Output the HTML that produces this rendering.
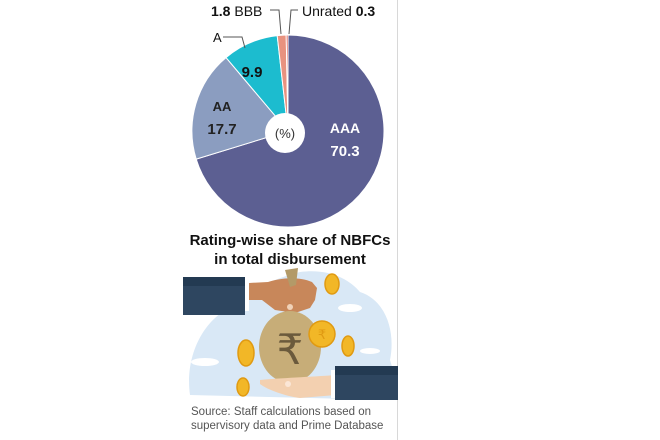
<!DOCTYPE html>
<html><head><meta charset="utf-8"><style>
html,body{margin:0;padding:0;background:#fff;}
body{width:660px;height:440px;overflow:hidden;position:relative;font-family:"Liberation Sans","DejaVu Sans",sans-serif;}
</style></head><body>
<svg width="660" height="440" viewBox="0 0 660 440" xmlns="http://www.w3.org/2000/svg" style="position:absolute;left:0;top:0">
<line x1="397.5" y1="0" x2="397.5" y2="440" stroke="#d8d8d8" stroke-width="1"/>
<g stroke="#fff" stroke-width="1">
<path d="M288,131 L288,35 A96,96 0 1 1 196.2,159.1 Z" fill="#5c5f92"/>
<path d="M288,131 L196.2,159.1 A96,96 0 0 1 226.0,57.6 Z" fill="#8b9dc0"/>
<path d="M288,131 L226.0,57.6 A96,96 0 0 1 277.2,35.6 Z" fill="#1cbccf"/>
<path d="M288,131 L277.2,35.6 A96,96 0 0 1 286.2,35.0 Z" fill="#e8927f"/>
<path d="M288,131 L286.2,35.0 A96,96 0 0 1 288,35 Z" fill="#d8453a"/>
</g>
<circle cx="285" cy="133" r="20" fill="#fff"/>
<text x="285" y="138" text-anchor="middle" font-size="13" fill="#333">(%)</text>
<text x="345" y="133" text-anchor="middle" font-size="14" font-weight="bold" fill="#fff">AAA</text>
<text x="345" y="156" text-anchor="middle" font-size="15" font-weight="bold" fill="#fff">70.3</text>
<text x="222" y="111" text-anchor="middle" font-size="13" font-weight="bold" fill="#222">AA</text>
<text x="222" y="134" text-anchor="middle" font-size="15" font-weight="bold" fill="#222">17.7</text>
<text x="252" y="77" text-anchor="middle" font-size="15" font-weight="bold" fill="#111">9.9</text>
<text x="211" y="16" font-size="14" fill="#111"><tspan font-weight="bold">1.8</tspan> BBB</text>
<text x="302" y="16" font-size="14" fill="#111">Unrated <tspan font-weight="bold">0.3</tspan></text>
<polyline points="270,10 279,10 281,34" fill="none" stroke="#555" stroke-width="1"/>
<polyline points="298,10 291,10 289,34" fill="none" stroke="#555" stroke-width="1"/>
<text x="213" y="42" font-size="13" fill="#111">A</text>
<polyline points="223,37 242,37 245,48" fill="none" stroke="#555" stroke-width="1"/>
<text x="290" y="245" text-anchor="middle" font-size="15" font-weight="bold" fill="#111">Rating-wise share of NBFCs</text>
<text x="290" y="264" text-anchor="middle" font-size="15" font-weight="bold" fill="#111">in total disbursement</text>
<path d="M190,395 C185,360 200,320 235,305 C250,290 270,280 300,272 C330,268 350,280 360,292 C385,300 396,330 390,360 C395,375 396,390 390,400 Z" fill="#d9e8f6"/>
<ellipse cx="205" cy="362" rx="14" ry="4" fill="#fff"/>
<ellipse cx="350" cy="308" rx="12" ry="4" fill="#fff"/>
<ellipse cx="370" cy="351" rx="10" ry="3" fill="#fff"/>
<rect x="183" y="277" width="62" height="38" fill="#2e4660"/>
<rect x="183" y="277" width="62" height="9" fill="#233a52"/>
<rect x="245" y="281" width="4" height="30" fill="#fff"/>
<path d="M249,283 L268,282 C280,278 298,276 312,282 L317,288 L315,300 L310,308 L295,313 L275,310 L262,300 L249,300 Z" fill="#c8875a"/>
<circle cx="290" cy="307" r="3" fill="#f0d2b8"/>
<path d="M285,270 L298,268 L296,285 L290,287 Z" fill="#b39a68"/>
<ellipse cx="290" cy="347" rx="31" ry="36" fill="#c7ad78"/>
<text x="290" y="364" text-anchor="middle" font-size="42" fill="#6b5a3c" font-family="'DejaVu Sans',sans-serif">₹</text>
<path d="M260,380 C280,378 310,377 336,375 L336,395 L300,398 C285,396 268,390 260,384 Z" fill="#f3d0b0"/>
<circle cx="288" cy="384" r="3" fill="#fbe6d6"/>
<rect x="335" y="366" width="63" height="34" fill="#2e4660"/>
<rect x="335" y="366" width="63" height="9" fill="#233a52"/>
<rect x="331" y="370" width="4" height="28" fill="#fff"/>
<g fill="#f2b727" stroke="#e09a12" stroke-width="1.5">
<circle cx="322" cy="334" r="13"/>
<ellipse cx="332" cy="284" rx="7" ry="10"/>
<ellipse cx="348" cy="346" rx="6" ry="10"/>
<ellipse cx="246" cy="353" rx="8" ry="13"/>
<ellipse cx="243" cy="387" rx="6" ry="9"/>
</g>
<text x="322" y="339" text-anchor="middle" font-size="13" fill="#e09a12" font-family="'DejaVu Sans',sans-serif">₹</text>
<text x="191" y="415" font-size="11.5" fill="#555">Source: Staff calculations based on</text>
<text x="191" y="429" font-size="11.5" fill="#555">supervisory data and Prime Database</text>
</svg>
</body></html>
